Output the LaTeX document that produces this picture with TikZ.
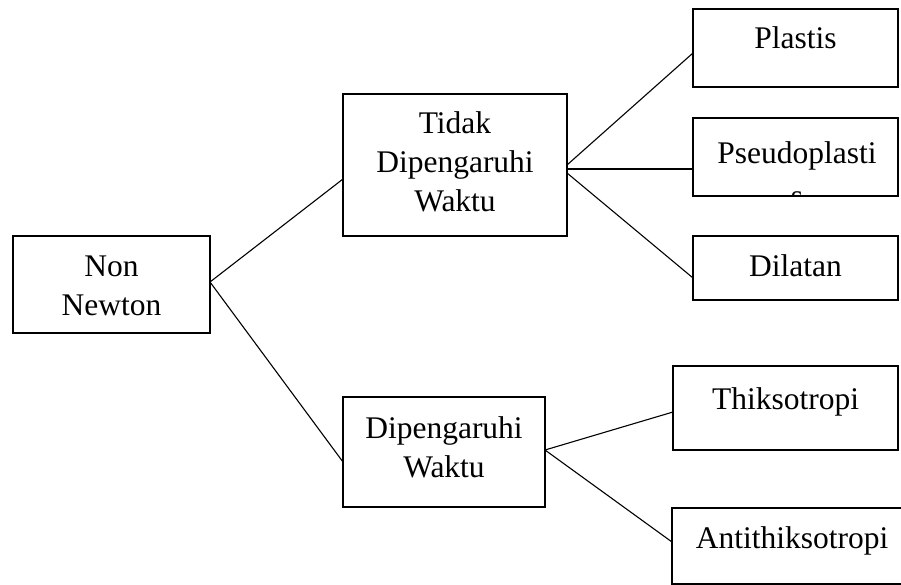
\documentclass[tikz,border=0pt]{standalone}
\usepackage{fontspec}
\setmainfont{Liberation Serif}
\usetikzlibrary{calc}
\tikzset{
  box/.style={draw=black, line width=2.4pt, inner sep=0pt, outer sep=0pt},
  openbox/.style={line width=2.4pt, inner sep=0pt, outer sep=0pt},
  lbl/.style={anchor=base, inner sep=0pt, font=\fontsize{31.5}{39}\selectfont},
  link/.style={draw=black, line width=1.1pt}
}
\newcommand{\lines}[1]{\begin{tabular}[t]{@{}c@{}}#1\end{tabular}}
\begin{document}
\begin{tikzpicture}[x=1pt,y=-1pt]
\useasboundingbox (0,0) rectangle (901,585);
\fill[white] (0,0) rectangle (901,585);
% boxes
\node[box, minimum width=197pt, minimum height=97pt] (nn) at (111.5,284.5) {};
\node[box, minimum width=224pt, minimum height=142pt] (td) at (455,165) {};
\node[box, minimum width=202pt, minimum height=110pt] (dw) at (444,452) {};
\node[box, minimum width=205pt, minimum height=78pt] (pl) at (795.5,48) {};
\node[box, minimum width=205pt, minimum height=78pt] (ps) at (795.5,157) {};
\node[box, minimum width=205pt, minimum height=64pt] (di) at (795.5,268) {};
\node[box, minimum width=225pt, minimum height=84pt] (th) at (785.5,408) {};
\node[openbox, minimum width=229pt, minimum height=76pt] (an) at (786.5,546) {};
\draw[line width=2.4pt, line cap=rect] (an.north east) -- (an.north west) -- (an.south west) -- (an.south east);
% texts
\node[lbl] (tnn) at (111.5,276) {\lines{Non\\Newton}};
\node[lbl] (ttd) at (455,134) {\lines{Tidak\\Dipengaruhi\\Waktu}};
\node[lbl] (tdw) at (444,438) {\lines{Dipengaruhi\\Waktu}};
\node[lbl] (tpl) at (795.5,49) {Plastis};
\begin{scope}
\clip (ps.south west) ++(1.2pt,1.2pt) rectangle ($(ps.north east)+(-1.2pt,-1.2pt)$);
\node[lbl] (tps) at (797,164) {\lines{Pseudoplasti\\[4pt]s}};
\end{scope}
\node[lbl] (tdi) at (795.5,276) {Dilatan};
\node[lbl] (tth) at (785.5,409) {Thiksotropi};
\node[lbl] (tan) at (792,548) {Antithiksotropi};
% connectors
\draw[link] ([yshift=2.5pt]nn.east) -- ([yshift=-14pt]td.west);
\draw[link] ([yshift=2.5pt]nn.east) -- ([yshift=-10pt]dw.west);
\draw[link] (td.east) -- ([yshift=-5pt]pl.west);
\draw[link] ([yshift=-4pt]td.east) -- ([yshift=-12pt]ps.west);
\draw[link] ([yshift=-8pt]td.east) -- ([yshift=-10pt]di.west);
\draw[link] ([yshift=2pt]dw.east) -- ([yshift=-4pt]th.west);
\draw[link] ([yshift=2pt]dw.east) -- ([yshift=4pt]an.west);
\end{tikzpicture}
\end{document}
